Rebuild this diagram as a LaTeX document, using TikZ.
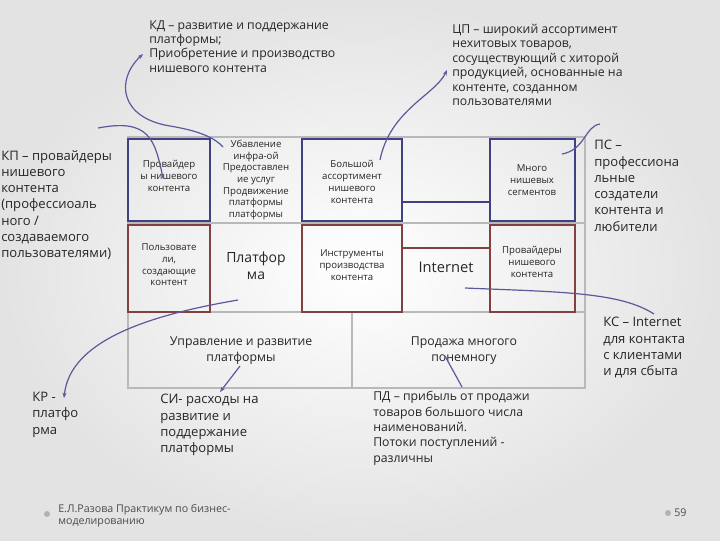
\documentclass[tikz,border=0pt]{standalone}
\usepackage{fontspec}
\setmainfont{Open Sans}
\usetikzlibrary{arrows.meta}
\begin{document}
\begin{tikzpicture}[x=0.75pt,y=-0.75pt,
  txt/.style={align=left,anchor=north west,inner sep=0pt,font=\fontsize{9.5}{11.5}\selectfont,text=black!85},
  btxt/.style={align=center,inner sep=0pt,font=\fontsize{7.2}{8.8}\selectfont,text=black!85},
  bluebox/.style={draw=blue!35!black!75,line width=1.2pt},
  redbox/.style={draw=red!35!black!75,line width=1.2pt},
  grid/.style={draw=gray!55,line width=1pt},
  crv/.style={draw=blue!40!black!65,line width=0.9pt},
  arr/.style={crv,-{Stealth[length=4pt]}}]
\useasboundingbox (0,0) rectangle (720,540);
\shade[inner color=white,outer color=gray!22] (0,0) rectangle (720,540);
% grid
\draw[grid] (128,137) rectangle (585,388);
\draw[grid] (128,223) -- (585,223);
\draw[grid] (128,312) -- (585,312);
\draw[grid] (352,312) -- (352,388);
\draw[grid] (210,137) -- (210,312);
\draw[grid] (302,137) -- (302,312);
% boxes
\draw[bluebox] (128,139) rectangle (210,221);
\draw[bluebox] (302,139) rectangle (402,221);
\draw[bluebox] (490,139) rectangle (575,221);
\draw[bluebox] (402,202) -- (490,202);
\draw[redbox] (128,225) rectangle (210,312);
\draw[redbox] (302,225) rectangle (402,312);
\draw[redbox] (490,225) rectangle (575,312);
\draw[redbox] (402,248) -- (490,248);
% box texts
\node[btxt] (t1) at (169,176) {Провайдер\\ы нишевого\\контента};
\node[btxt] (t2) at (256,180) {Убавление\\инфра-ой\\Предоставлен\\ие услуг\\Продвижение\\платформы\\платформы};
\node[btxt] (t3) at (352,182) {Большой\\ассортимент\\нишевого\\контента};
\node[btxt] (t4) at (532,180) {Много\\нишевых\\сегментов};
\node[btxt] (t5) at (169,265) {Пользовате\\ли,\\создающие\\контент};
\node[btxt,font=\fontsize{10.5}{12.5}\selectfont] (t6) at (256,266) {Платфор\\ма};
\node[btxt] (t7) at (352,265) {Инструменты\\производства\\контента};
\node[btxt,font=\fontsize{11}{12.5}\selectfont] (t8) at (446,267) {Internet};
\node[btxt] (t9) at (532,262) {Провайдеры\\нишевого\\контента};
\node[btxt,font=\fontsize{9.2}{12}\selectfont] (t10) at (241,351) {Управление и развитие\\платформы};
\node[btxt,font=\fontsize{9.2}{12}\selectfont] (t11) at (464,351) {Продажа многого\\понемногу};
% outer texts
\node[txt,font=\fontsize{9.2}{10.8}\selectfont] (kd) at (149,20) {КД – развитие и поддержание\\платформы;\\Приобретение и производство\\нишевого контента};
\node[txt,font=\fontsize{9.2}{10.8}\selectfont] (cp) at (452,24) {ЦП – широкий ассортимент\\нехитовых товаров,\\сосуществующий с хиторой\\продукцией, основанные на\\контенте, созданном\\пользователями};
\node[txt,font=\fontsize{9.8}{12.2}\selectfont] (kp) at (1,150) {КП – провайдеры\\нишевого\\контента\\(профессиоаль\\ного /\\создаваемого\\пользователями)};
\node[txt,font=\fontsize{9.8}{12.2}\selectfont] (ps) at (594,140) {ПС –\\профессиона\\льные\\создатели\\контента и\\любители};
\node[txt,font=\fontsize{9.8}{12.2}\selectfont] (ks) at (603,317) {КС – Internet\\для контакта\\с клиентами\\и для сбыта};
\node[txt,font=\fontsize{9.8}{12.2}\selectfont] (kr) at (32,392) {КР -\\платфо\\рма};
\node[txt,font=\fontsize{9.8}{12.2}\selectfont] (si) at (160,394) {СИ- расходы на\\развитие и\\поддержание\\платформы};
\node[txt,font=\fontsize{9.2}{11.5}\selectfont] (pd) at (373,391) {ПД – прибыль от продажи\\товаров большого числа\\наименований.\\Потоки поступлений -\\различны};
\node[txt,font=\fontsize{8}{9.4}\selectfont,text=black!70] (ft) at (58,504) {Е.Л.Разова Практикум по бизнес-\\моделированию};
\node[txt,font=\fontsize{8}{9.4}\selectfont,text=black!70] (pg) at (674,508) {59};
\fill[gray!60] (47,514) circle (3) (668,513) circle (3);
% connectors
\coordinate (kdS) at (143,54);
\coordinate (kdE) at (223,147);
\draw[crv,{Stealth[length=4pt]}-] (kdS) .. controls (115,80) and (120,118) .. (170,126) .. controls (200,131) and (215,138) .. (kdE);
\coordinate (cpS) at (447,70);
\coordinate (cpE) at (380,160);
\draw[crv,{Stealth[length=4pt]}-] (cpS) .. controls (435,95) and (390,110) .. (cpE);
\coordinate (kpS) at (98,128);
\coordinate (kpE) at (163,178);
\draw[crv] (kpS) .. controls (150,118) and (155,140) .. (kpE);
\coordinate (psS) at (600,124);
\coordinate (psE) at (562,154);
\draw[crv] (psS) .. controls (585,126) and (585,150) .. (psE);
\coordinate (ksS) at (654,314);
\coordinate (ksE) at (465,288);
\draw[crv] (ksS) .. controls (620,292) and (560,292) .. (ksE);
\coordinate (krS) at (238,300);
\coordinate (krE) at (64,398);
\draw[arr] (krS) .. controls (150,315) and (70,340) .. (krE);
\coordinate (siS) at (240,366);
\coordinate (siE) at (220,392);
\draw[arr] (siS) -- (siE);
\coordinate (pdS) at (445,356);
\coordinate (pdE) at (462,387);
\draw[crv] (pdS) -- (pdE);
\end{tikzpicture}
\end{document}
